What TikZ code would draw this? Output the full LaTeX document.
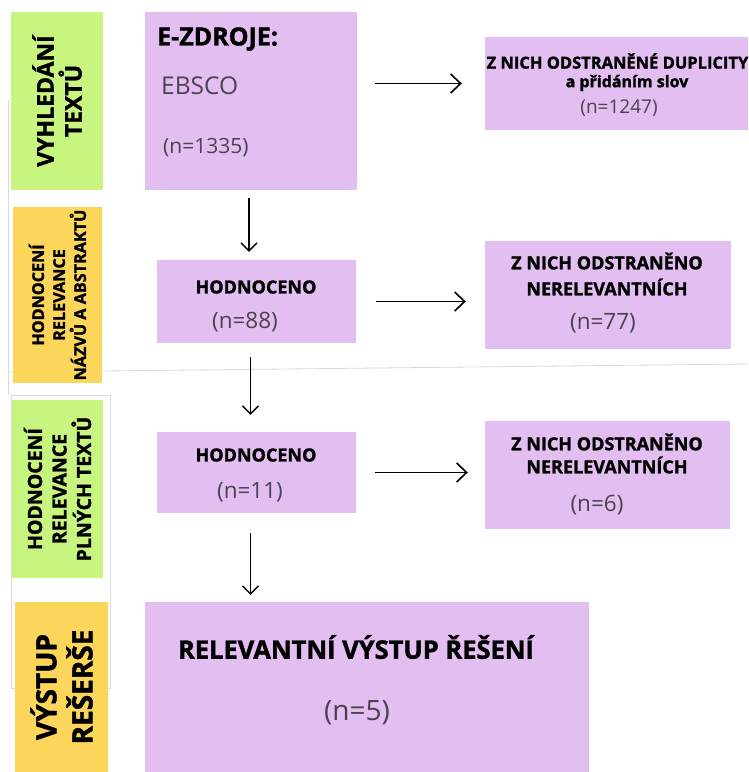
\documentclass[tikz,border=0pt]{standalone}
\usepackage{fontspec}
\setmainfont{Open Sans}[BoldFeatures={FakeBold=1.5}]
\usetikzlibrary{arrows.meta}
\definecolor{lav}{HTML}{E3BEF0}
\definecolor{limeg}{HTML}{C8F57F}
\definecolor{goldy}{HTML}{FCD65B}
\definecolor{softtxt}{HTML}{4A4250}
\definecolor{framegray}{HTML}{DADADA}
\begin{document}
\begin{tikzpicture}[x=1pt,y=-1pt,
  pbox/.style={fill=lav, draw=none, inner sep=0pt},
  sidebox/.style={draw=none, inner sep=0pt, rotate=90, align=center, text=black},
  ttl/.style={inner sep=0pt, text=black, font=\bfseries},
  num/.style={inner sep=0pt, text=softtxt},
  harr/.style={-{Straight Barb[length=10pt,width=19pt,line width=1.6pt]}, line width=1.9pt, black},
  varr/.style={-{Straight Barb[length=8pt,width=16pt,line width=1.3pt]}, line width=1.3pt, black},
  artifact/.style={draw=framegray, line width=0.8pt}
]
\useasboundingbox[fill=white] (0,0) rectangle (748,772);

% faint frame lines
\draw[artifact] (8,100) -- (8,395);
\draw[artifact] (8,372) -- (748,364);
\draw[artifact] (11,395) rectangle (110,688);

% side labels
\node[sidebox, fill=limeg, minimum width=178pt, minimum height=92pt,
      font=\fontsize{23}{28}\selectfont\bfseries] (g1) at (57,101) {VYHLEDÁNÍ\\TEXTŮ};
\node[sidebox, fill=goldy, minimum width=176pt, minimum height=89pt,
      font=\fontsize{16.2}{21}\selectfont\bfseries] (y1) at (57.5,295) {HODNOCENÍ\\RELEVANCE\\NÁZVŮ A ABSTRAKTŮ};
\node[sidebox, fill=limeg, minimum width=178pt, minimum height=91pt,
      font=\fontsize{19.5}{24.5}\selectfont\bfseries] (g2) at (57.5,489) {HODNOCENÍ\\RELEVANCE\\PLNÝCH TEXTŮ};
\node[sidebox, fill=goldy, minimum width=170pt, minimum height=93pt,
      font=\fontsize{28}{36}\selectfont\bfseries] (y2) at (61.5,687) {VÝSTUP\\REŠERŠE};

% purple boxes
\node[pbox, minimum width=212pt, minimum height=178pt] (src) at (251,101) {};
\node[pbox, minimum width=263pt, minimum height=93pt] (dup) at (616.5,83.5) {};
\node[pbox, minimum width=199pt, minimum height=83pt] (h1) at (256.5,301.5) {};
\node[pbox, minimum width=246pt, minimum height=108pt] (r2) at (608,295) {};
\node[pbox, minimum width=199pt, minimum height=81pt] (h2) at (256.5,472.5) {};
\node[pbox, minimum width=245pt, minimum height=108pt] (r3) at (607.5,475) {};
\node[pbox, minimum width=444pt, minimum height=170pt] (res) at (367,687) {};

% texts
\node[ttl, anchor=west, font=\fontsize{25}{28}\selectfont\bfseries] (srcT) at (157,39) {E-ZDROJE:};
\node[num, anchor=west, font=\fontsize{24.5}{27}\selectfont] (srcE) at (161,86) {EBSCO};
\node[num, anchor=west, font=\fontsize{21}{24}\selectfont] (srcN) at (163,148) {(n=1335)};

\node[ttl, font=\fontsize{16.5}{19}\selectfont\bfseries] (dupA) at (617.5,61) {Z NICH ODSTRANĚNÉ DUPLICITY};
\node[ttl, font=\fontsize{16}{19}\selectfont\bfseries] (dupB) at (627,83) {a přidáním slov};
\node[num, font=\fontsize{19}{22}\selectfont] (dupN) at (619,108) {(n=1247)};

\node[ttl, font=\fontsize{18}{21}\selectfont\bfseries] (h1T) at (256,287) {HODNOCENO};
\node[num, font=\fontsize{22.5}{25}\selectfont] (h1N) at (245,322) {(n=88)};

\node[ttl, font=\fontsize{18}{20}\selectfont\bfseries] (r2A) at (607,261) {Z NICH ODSTRANĚNO};
\node[ttl, font=\fontsize{18}{20}\selectfont\bfseries] (r2B) at (607,287) {NERELEVANTNÍCH};
\node[num, font=\fontsize{22.5}{25}\selectfont] (r2N) at (603,323) {(n=77)};

\node[ttl, font=\fontsize{18}{21}\selectfont\bfseries] (h2T) at (256,455) {HODNOCENO};
\node[num, font=\fontsize{22.5}{25}\selectfont] (h2N) at (250,492) {(n=11)};

\node[ttl, font=\fontsize{18}{20}\selectfont\bfseries] (r3A) at (607,442) {Z NICH ODSTRANĚNO};
\node[ttl, font=\fontsize{18}{20}\selectfont\bfseries] (r3B) at (607,465) {NERELEVANTNÍCH};
\node[num, font=\fontsize{22.5}{25}\selectfont] (r3N) at (597,505) {(n=6)};

\node[ttl, font=\fontsize{25.5}{28}\selectfont\bfseries] (resT) at (356,647) {RELEVANTNÍ VÝSTUP ŘEŠENÍ};
\node[num, font=\fontsize{28}{32}\selectfont] (resN) at (357,713) {(n=5)};

% horizontal arrows
\draw[harr, shorten <=18pt, shorten >=23pt] (src.east |- dup.west) -- (dup.west);
\draw[harr, shorten <=20pt, shorten >=19pt] (h1.east) -- (h1.east -| r2.west);
\draw[harr, shorten <=19pt, shorten >=17pt] (h2.east) -- (h2.east -| r3.west);

% vertical arrows
\draw[varr, shorten <=8pt, shorten >=8pt] ([xshift=-2pt]src.south) -- ([xshift=-2pt]src.south |- h1.north);
\draw[varr, shorten <=14pt, shorten >=17pt] ([xshift=-6pt]h1.south) -- ([xshift=-6pt]h1.south |- h2.north);
\draw[varr, shorten <=20pt, shorten >=7pt] ([xshift=-6pt]h2.south) -- ([xshift=-6pt]h2.south |- res.north);
\end{tikzpicture}
\end{document}
